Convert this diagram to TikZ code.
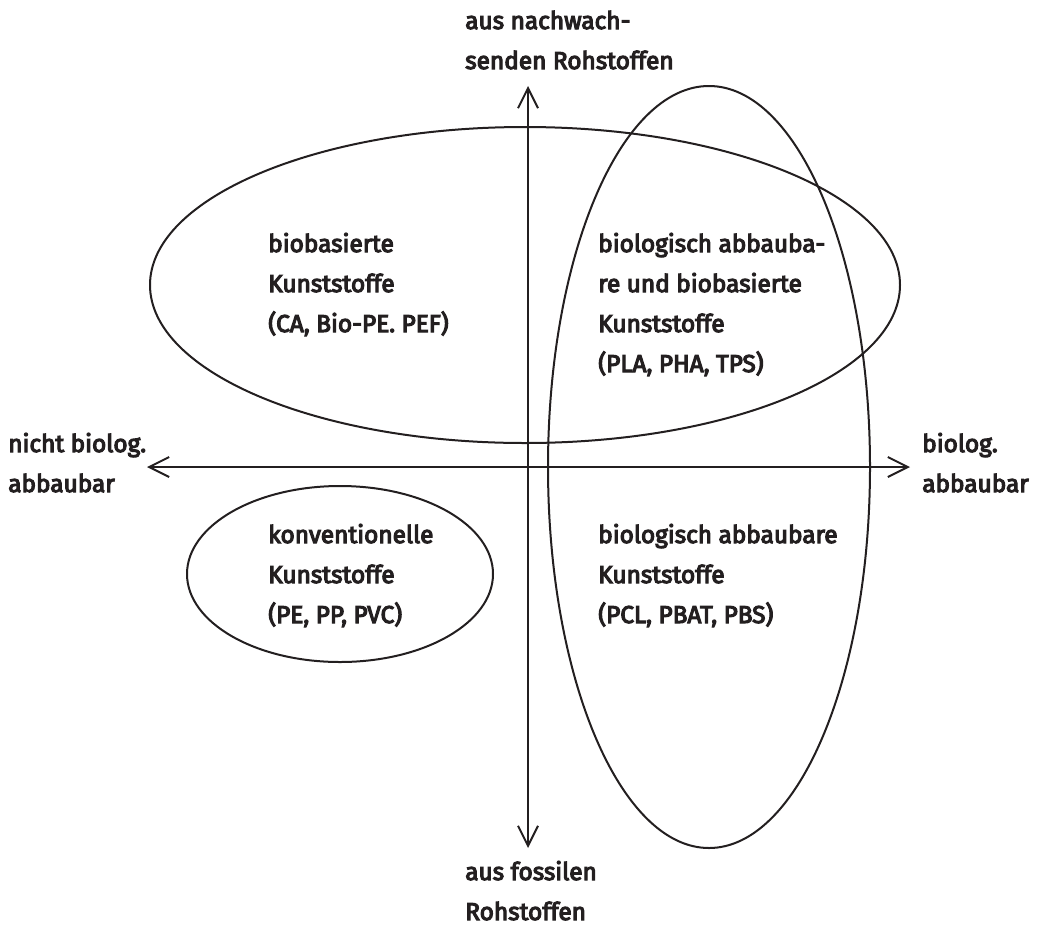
\documentclass[tikz,border=0pt]{standalone}
\usepackage{fontspec}
\setmainfont{Fira Sans}[FakeBold=4.5]
\usetikzlibrary{arrows.meta}
\definecolor{ink}{HTML}{231F20}
\begin{document}
\begin{tikzpicture}[x=0.75pt,y=-0.75pt,
  lbl/.style={anchor=base west, align=left, inner sep=0pt, text=ink, font=\fontsize{18.3}{30}\selectfont},
  oval/.style={draw=ink, line width=1.5pt},
  axis/.style={draw=ink, line width=1.5pt, {Straight Barb[length=15pt,width=15pt]}-{Straight Barb[length=15pt,width=15pt]}}]
\useasboundingbox (0,0) rectangle (1038,925);
\draw[oval] (525,285) ellipse [x radius=375, y radius=158];
\draw[oval] (709,467) ellipse [x radius=161, y radius=381];
\draw[oval] (340,574) ellipse [x radius=153, y radius=88];
\coordinate (vt) at (528,86);
\coordinate (vb) at (528,848);
\coordinate (hl) at (147,467);
\coordinate (hr) at (910,467);
\draw[axis] (vb) -- (vt);
\draw[axis] (hl) -- (hr);
% base anchor of a multi-line node = baseline of its last line
\node[lbl] (top) at (465,69) {aus nachwach-\\senden Rohstoffen};
\node[lbl] (bot) at (465,920) {aus fossilen\\Rohstoffen};
\node[lbl] (left) at (8,492) {nicht biolog.\\abbaubar};
\node[lbl] (right) at (922,492) {biolog.\\abbaubar};
\node[lbl] (bb) at (268,332) {biobasierte\\Kunststoffe\\(CA, Bio-PE. PEF)};
\node[lbl] (bab) at (598,372) {biologisch abbauba-\\re und biobasierte\\Kunststoffe\\(PLA, PHA, TPS)};
\node[lbl] (konv) at (268,623) {konventionelle\\Kunststoffe\\(PE, PP, PVC)};
\node[lbl] (ba) at (598,623) {biologisch abbaubare\\Kunststoffe\\(PCL, PBAT, PBS)};
\end{tikzpicture}
\end{document}
